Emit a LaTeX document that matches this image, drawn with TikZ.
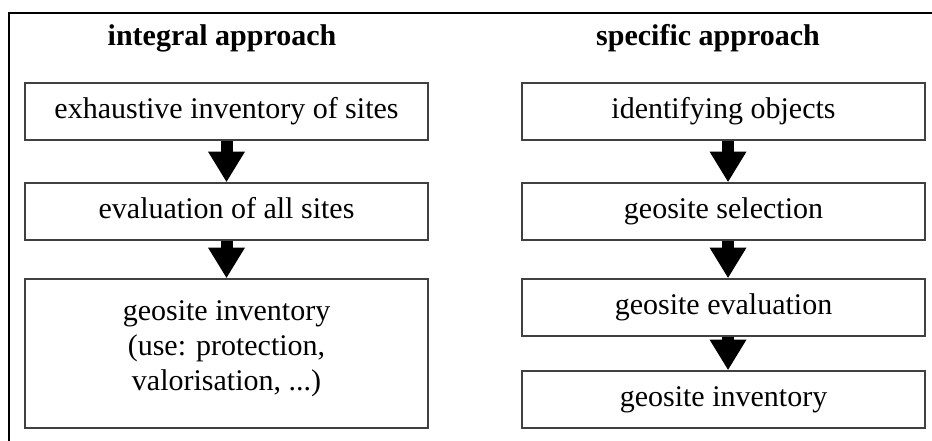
\documentclass[tikz,border=0pt]{standalone}
\usepackage{fontspec}
\setmainfont{Liberation Serif}
\usetikzlibrary{arrows.meta, positioning}

\begin{document}
\begin{tikzpicture}[
    x=0.75pt, y=-0.75pt,
    font=\fontsize{22.5}{26.25}\selectfont,
    box/.style={draw=black!75, line width=1.1pt, minimum width=302pt,
      minimum height=42.75pt, inner sep=0pt, align=center,
      text height=15pt, text depth=5pt},
    title/.style={font=\fontsize{22.5}{26.25}\selectfont\bfseries},
    flow/.style={line width=9pt,
      -{Triangle[length=23pt, width=26pt]}},
  ]
  \useasboundingbox (0,0) rectangle (932,441);

  %% ---- frame ---------------------------------------------------------
  \draw[line width=1.5pt] (9,441) -- (9,13) -- (932,13);

  %% ---- integral approach --------------------------------------------
  \node[title] (intT) at (222,38) {integral approach};
  \node[box] (exh) at (226.5,111.5) {exhaustive inventory of sites};
  \node[box] (evalall) at (226.5,211.5) {evaluation of all sites};
  \node[box, minimum height=111.75pt,
    label={[align=center, yshift=3.5pt]center:geosite inventory\\(use: protection,\\valorisation, ...)}]
    (invA) at (226.5,353.5) {};

  \draw[flow] (exh.south) -- (evalall.north);
  \draw[flow] (evalall.south) -- (invA.north);

  %% ---- specific approach --------------------------------------------
  \node[title] (specT) at (708,38) {specific approach};
  \node[box] (ident) at (723.5,111.5) {identifying objects};
  \node[box] (sel) at (723.5,211.5) {geosite selection};
  \node[box] (evalgeo) at (723.5,307.5) {geosite evaluation};
  \node[box] (invB) at (723.5,399.5) {geosite inventory};

  \draw[flow] ([xshift=3.4pt]ident.south) -- ([xshift=3.4pt]sel.north);
  \draw[flow] ([xshift=3.4pt]sel.south) -- ([xshift=3.4pt]evalgeo.north);
  \draw[flow] ([xshift=3.4pt]evalgeo.south) -- ([xshift=3.4pt]invB.north);
\end{tikzpicture}
\end{document}
